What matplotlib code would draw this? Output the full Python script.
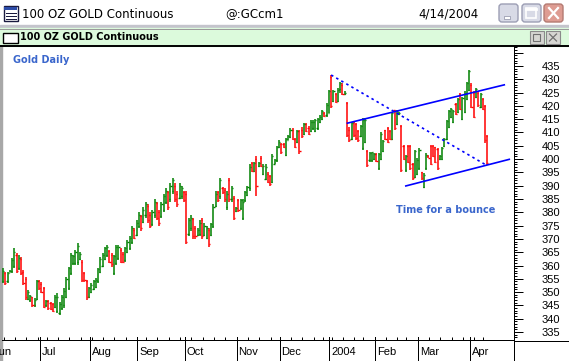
import numpy as np
import pandas as pd
import matplotlib
matplotlib.use("Agg")
import matplotlib.pyplot as plt
from matplotlib.patches import Rectangle, FancyBboxPatch

W, H = 569, 361
PX = 0.72  # one pixel in points at dpi 100

# trading sessions (COMEX holidays removed); the chart shows the last len(closes) of them
holidays = ["2003-07-04", "2003-09-01", "2003-11-27", "2003-12-25",
            "2004-01-01", "2004-01-19", "2004-02-16", "2004-04-09"]
days = pd.bdate_range("2003-06-02", "2004-04-14", freq="C", holidays=holidays)
month_names = ["Jun", "Jul", "Aug", "Sep", "Oct", "Nov", "Dec", "2004", "Feb", "Mar", "Apr"]

opens = [
    354, 357, 354, 357.7, 358, 360, 364, 359, 362.5, 357.5, 355, 347.5, 347, 348, 345, 347.5,  # Jun
    354, 353, 351.5, 345, 346.5, 346, 345.5, 344.5, 343, 342, 344, 345, 348, 351.5, 357, 361,
    361, 361.5, 362.5, 361.5, 357, 354,  # Jul
    348, 350, 351, 352, 354, 357.5, 360, 362.5, 364, 365.5, 364, 357, 361, 363, 366, 364.5,
    362, 365, 366.5, 369, 373.5,  # Aug
    371.5, 375, 378.5, 376.5, 379, 382.5, 379, 375.5, 379, 383.5, 380, 378.5, 381, 384, 387.5,
    385, 388, 390, 387, 385.5, 386,  # Sep
    387.5, 387, 372, 374, 377.5, 374, 371.5, 372, 377, 371.5, 370.5, 373.5, 371.5, 375, 382.5,
    387.5, 386, 389, 388.5, 382, 392, 385, 385.5,  # Oct
    380.5, 384.5, 381.5, 378, 384.5, 386.5, 389, 398.5, 395.5, 400, 397.5, 400.5, 394.5, 392.5,
    394.5, 393.5, 391.5, 398.2, 399.5,  # Nov
    404.5, 405.5, 405.8, 401.5, 407.2, 408.2, 411, 407.5, 406.5, 410.5, 411, 409.5, 413, 411.5,
    410.5, 411.5, 410.5, 411.5, 413.8, 415, 417.5, 416.5,  # Dec
    417.5, 431, 422, 424.5, 422, 426.3, 428, 424.3, 421, 411, 407.5, 413.8, 413, 410.5, 408.8,
    404, 406.5, 403, 399.5, 399.5,  # Jan
    400, 402, 396.5, 400, 403, 410.8, 411.8, 410.5, 407.5, 418.3, 413, 416.8, 412.5, 405, 395.8,
    405, 405, 398, 393.3,  # Feb
    394.5, 396.5, 395, 389.5, 396.5, 401.3, 405, 405, 404.5, 403.8, 400, 400.2, 405, 407.6, 412,
    415.7, 414, 420.7, 417.6, 424.4, 415.2, 417.7, 422.6,  # Mar
    425.8, 428, 425, 423.2, 425, 419.5, 422.5, 420, 408.8,  # Apr
]
highs = [
    359, 357.7, 357.7, 358.3, 362.7, 366.5, 364.6, 364, 363.3, 358.3, 355.8, 350.8, 348.9, 348.3,
    347.7, 354.5,
    354.5, 353.9, 352, 347, 347, 346.4, 345.8, 348.9, 349.5, 346.4, 348.9, 351.4, 355.8, 359.6,
    364.6, 364, 365.8, 368.3, 365.2, 362.1, 357.7, 354.5,
    352, 353.3, 354.5, 355.2, 358.9, 363.3, 364.6, 367.1, 367.7, 365.8, 364.6, 364, 367.7, 367.7,
    366.5, 365.2, 367.1, 369.6, 371, 375, 374,
    377, 380, 379, 382, 384, 383, 380, 381, 385, 384, 381, 384, 387, 389, 388, 391, 393, 391, 388,
    391, 390,
    388, 388, 378, 379, 378, 375, 374, 377, 378, 376, 375, 374, 376, 383, 388, 388, 393, 389.5,
    389, 388, 393, 390, 386,
    382, 385, 385, 385, 388, 390, 398, 399, 399, 401, 399, 401, 398, 398, 395, 394, 402, 400, 405,
    407, 406, 406.2, 408, 409, 411.5, 411.5, 408, 411, 411, 412, 413.5, 413.5, 412.5, 414.5, 414.5,
    415, 415.5, 416.6, 418.5, 417.8, 421,
    426, 431.6, 426, 424.7, 426.6, 429.1, 428.5, 425.4, 421.6, 412.2, 414.1, 414.1, 413.4, 411,
    412.8, 415.3, 415.3, 403.4, 402.8, 402.8,
    402.2, 402.2, 402.2, 410.3, 407.2, 411, 412.2, 411, 417.8, 418.5, 418.5, 417.8, 412.8, 405.3,
    401.5, 405.3, 405.3, 398.4, 403.4,
    400.3, 404.1, 395.3, 394.7, 402.2, 401.5, 405.3, 405.3, 404.7, 404.1, 401.5, 404.7, 407.8,
    414.7, 418.5, 419.1, 418.5, 421, 422.8, 424.7, 423.5, 425.4, 429.1,
    433.5, 428.5, 425.4, 426.6, 425.4, 424.7, 422.8, 420.3, 409.1,
]
lows = [
    353.3, 352.7, 353.3, 357.4, 357, 359, 357, 358.3, 356.4, 352.7, 347, 347, 346.4, 344.5, 344.5,
    347,
    350.8, 349.5, 343.9, 344.5, 343.3, 343.3, 342.7, 343.9, 342, 341.4, 343.3, 343.9, 347.7, 350.8,
    356.4, 360.2, 360.2, 360.2, 362.1, 353.9, 353.9, 347,
    347.7, 349.5, 350.8, 351.4, 353.3, 357.1, 359.6, 362.1, 363.3, 360.8, 359.6, 356.4, 360.2,
    362.1, 360.8, 360.8, 361.5, 364.6, 366, 368, 370,
    371, 374, 373, 376, 378, 376, 374, 375, 378, 377, 375, 378, 380, 383, 381, 384, 387, 384, 382,
    385, 385,
    384, 368, 371, 373, 370, 370, 371, 371, 370, 371, 370, 367, 371, 374, 382, 384, 385, 387, 384,
    381, 384, 384, 377,
    380, 380, 381, 377, 384, 386, 388, 395, 395, 386, 397, 397, 394, 392, 391, 390, 391, 398, 399,
    404, 402, 404, 401, 407, 408, 407, 404, 406, 402, 408, 409, 410, 409, 410, 411, 410, 411, 413.4,
    414.7, 416, 416,
    417.2, 419.1, 421.6, 421, 421.6, 425, 424.1, 424.1, 408.4, 406.6, 407.2, 408.4, 407.2, 406.6,
    408.4, 403.4, 406, 397.2, 399, 399,
    399.7, 399, 395.9, 399.7, 402.8, 407.2, 405.9, 407.2, 407.2, 411, 412.8, 416.6, 395.3, 399.7,
    395.3, 398.4, 395.9, 392.2, 392.8,
    394, 395.9, 392.2, 389, 395.9, 400.3, 397.8, 400.9, 398.4, 395.9, 399.7, 399.7, 404.7, 407.2,
    411.6, 415.3, 413.4, 416.6, 417.2, 418.5, 414.7, 417.2, 422.2,
    425.4, 419.1, 415.3, 422.8, 419.7, 419.1, 418.5, 405.9, 397.8,
]
closes = [
    358, 353.5, 357, 358, 362, 365, 358, 363, 357, 353.5, 348, 350, 348.5, 345, 347, 354,
    351.5, 350, 344.5, 346.5, 344, 343.8, 343, 348, 348, 345.5, 348, 350.5, 355, 359, 364, 363.5,
    365, 367.5, 364.5, 354.5, 354.5, 348,
    351.5, 352.5, 354, 354.5, 358.5, 362.5, 364, 366.5, 367, 361.5, 360.5, 363.5, 367, 367, 361.5,
    361.5, 366.5, 369, 370.5, 374, 370.5,
    376, 379, 374, 381, 383, 377, 375, 380, 384, 378, 376, 383, 386, 388, 382, 390, 392, 385, 383,
    390, 389,
    384.5, 369, 377, 378, 371, 371, 373.5, 376, 371, 375, 374, 368, 375.5, 382, 387, 384.5, 392,
    387.5, 385, 387, 385, 389, 378,
    381.5, 381, 384.5, 384, 387.5, 389.5, 397, 395.5, 398.5, 390, 398.5, 397.5, 397.5, 397, 391.5,
    390.5, 401, 399.5, 404.5,
    406.5, 402.5, 404.5, 407.5, 408.5, 411, 407.5, 404.5, 410.5, 403, 408.5, 413, 410.5, 409.5, 414,
    414, 414.5, 415, 416, 418, 416.3, 420.5,
    425.5, 420, 425.5, 421.5, 426, 428.5, 424.5, 425, 409, 407, 413.5, 409, 407.8, 407, 412.3,
    414.8, 414.5, 397.8, 402.3, 402.5,
    402, 399.3, 401.8, 409.5, 406.8, 407.5, 406.5, 407.5, 417.3, 411.5, 418, 417.5, 396, 400, 401,
    399, 396.5, 392.8, 403,
    399.8, 403.5, 392.7, 394.2, 401.7, 400.5, 398.3, 401.3, 399, 396.5, 401.2, 404.3, 407.5, 414.3,
    418, 418.7, 418, 417, 422.4, 419, 423, 425, 428.7,
    433, 419.6, 416, 426.2, 420.2, 424.3, 419, 407, 398.5,
]

# hand-drawn trend lines: (bar index, price) at both ends
fall_line = ([145, 213.4], [431.6, 397.8])
upper_line = ([152.2, 221.5], [413.5, 427.9])
lower_line = ([178, 223.7], [389.9, 399.9])

price_ticks = list(range(335, 445, 5))

n = len(closes)
offset = len(days) - n
pos = np.arange(len(days)) - offset
month_pos = [pos[k] for k in range(len(days)) if k == 0 or days[k].month != days[k - 1].month]
week_pos = [pos[k] for k in range(1, len(days)) if days[k].weekday() < days[k - 1].weekday()]

XLIM = (-0.45, 225.8)
YLIM = (332, 442.5)

fig = plt.figure(figsize=(W / 100, H / 100), dpi=100)

# ---- window chrome, drawn in pixel coordinates ----
bg = fig.add_axes([0, 0, 1, 1], zorder=0)
bg.axis("off")
bg.add_patch(Rectangle((0, 0), W, H, color="white"))
top = np.array([0.98, 0.98, 0.99])
bot = np.array([0.85, 0.85, 0.88])
grad = top + (bot - top) * np.linspace(0, 1, 26)[:, None, None]
bg.imshow(grad, extent=(0, W, 26, 0), aspect="auto", interpolation="bilinear")
bg.set_xlim(0, W)
bg.set_ylim(H, 0)
bg.add_patch(Rectangle((0, 25), W, 3, color="#C4C4CC"))

# title bar icon
bg.add_patch(Rectangle((4, 6), 14, 15, fc="white", ec="#1A1A40", lw=1))
bg.add_patch(Rectangle((4.5, 6.5), 13, 3, fc="#2C4CA8", lw=0))
for yy in (12.5, 15.5, 18.5):
    bg.plot([6, 16], [yy, yy], color="#1A1A40", lw=PX)
bg.text(22, 14, "100 OZ GOLD Continuous", fontsize=8.5, va="center", color="black")
bg.text(225, 14, "@:GCcm1", fontsize=8.5, va="center", color="black")
bg.text(418, 14, "4/14/2004", fontsize=8.5, va="center", color="black")

# window buttons
for x0, fc, ec in ((499, "#D8DAE6", "#9C9EB4"), (522, "#D8DAE6", "#9C9EB4"), (544, "#DE9C92", "#B47A72")):
    bg.add_patch(FancyBboxPatch((x0, 4), 19, 18, boxstyle="round,pad=0,rounding_size=3",
                                fc=fc, ec=ec, lw=1))
bg.add_patch(Rectangle((504, 16), 6, 2.5, fc="white", ec="#8C8EA4", lw=0.5))
bg.add_patch(Rectangle((526.5, 8), 10, 10, fill=False, ec="white", lw=1.2))
bg.plot([526.5, 536.5], [9, 9], color="white", lw=2)
bg.plot([549, 558], [8, 18], color="white", lw=1.6)
bg.plot([549, 558], [18, 8], color="white", lw=1.6)

# inner pane title bar
bg.add_patch(Rectangle((0, 28), W, 17.5, color="#DCFADC"))
bg.plot([0, W], [28.5, 28.5], color="#9A9A9A", lw=PX)
bg.plot([0, W], [45.5, 45.5], color="black", lw=1.4)
bg.add_patch(Rectangle((3, 32.5), 15, 10, fc="white", ec="black", lw=1))
bg.text(20, 37.5, "100 OZ GOLD Continuous", fontsize=7, fontweight="bold", va="center", color="black")
for x0 in (530, 546):
    bg.add_patch(Rectangle((x0, 31), 14, 13, fc="#D6D6D2", ec="#8A8A8A", lw=0.8))
bg.add_patch(Rectangle((533.5, 34), 7, 7, fill=False, ec="#707070", lw=0.8))
bg.plot([549.5, 556.5], [34, 41], color="#707070", lw=0.9)
bg.plot([549.5, 556.5], [41, 34], color="#707070", lw=0.9)

# left frame edge and axis lines that run past the plotting pane
bg.add_patch(Rectangle((0, 46), 2, H - 46, color="#A8A8A8"))
bg.plot([514, W], [340.5, 340.5], color="black", lw=PX)
bg.plot([514.5, 514.5], [340, H], color="black", lw=PX)

blue_txt = "#3A66CC"
bg.text(13, 60, "Gold Daily", fontsize=7, fontweight="bold", color=blue_txt, va="center")
bg.text(396, 210, "Time for a bounce", fontsize=7, fontweight="bold", color=blue_txt, va="center")

# ---- price pane ----
ax = fig.add_axes([2 / W, (H - 340) / H, 512 / W, 294 / H], zorder=1)
ax.set_facecolor("none")

x = np.arange(n)
o = np.array(opens)
hi = np.array(highs)
lo = np.array(lows)
c = np.array(closes)
colors = np.where(c >= o, "#008000", "#FF0000")
ax.vlines(x, lo, hi, colors=colors, lw=1.1)
ax.hlines(o, x - 0.5, x, colors=colors, lw=1.0)
ax.hlines(c, x, x + 0.5, colors=colors, lw=1.0)

ax.plot(*fall_line, color="#0000FF", lw=1.2, linestyle=(0, (1.5, 2)))
ax.plot(*upper_line, color="#0000FF", lw=1.2)
ax.plot(*lower_line, color="#0000FF", lw=1.2)

for s in ("top", "left"):
    ax.spines[s].set_visible(False)
for s in ("right", "bottom"):
    ax.spines[s].set_linewidth(PX)
    ax.spines[s].set_color("black")

# price scale on the right
ax.set_yticks(price_ticks)
ax.set_yticks(np.arange(333, 443, 1), minor=True)
ax.set_yticklabels([str(v) if v <= 435 else "" for v in price_ticks], ha="right",
                   family="Liberation Sans", fontsize=8)
ax.tick_params(axis="y", which="both", left=False, right=True, labelleft=False, labelright=True,
               direction="out", width=PX, color="black")
ax.tick_params(axis="y", which="major", length=9 * PX, pad=37 * PX)
ax.tick_params(axis="y", which="minor", length=3 * PX)

# time scale: weekly ticks, month separators and names
ax.set_xticks([])
ax.set_xticks([p + 0.25 for p in week_pos if p >= 0], minor=True)
ax.tick_params(axis="x", which="minor", direction="in", length=3 * PX, width=PX, color="black")
xt = ax.get_xaxis_transform()
for p, name in zip(month_pos, month_names):
    ax.axvline(p + 0.25, ymin=-21 / 294, ymax=3 / 294, color="black", lw=PX, clip_on=False)
    ax.text(p + 1.1, -12 / 294, name, transform=xt, fontsize=8, family="Liberation Sans",
            va="center", ha="left", color="black")

# set_xticks can widen the view, so fix the limits last
ax.set_xlim(*XLIM)
ax.set_ylim(*YLIM)

fig.savefig("out.png", dpi=100)
